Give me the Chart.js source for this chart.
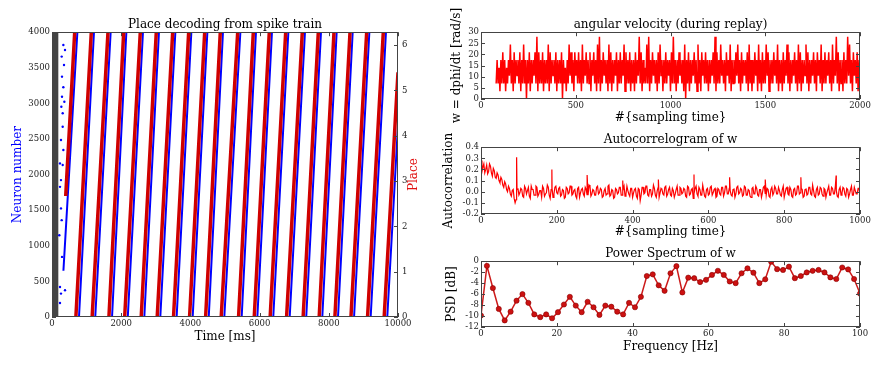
<!DOCTYPE html>
<html>
<head>
<meta charset="utf-8">
<script src="https://cdn.jsdelivr.net/npm/chart.js@4.4.1/dist/chart.umd.min.js"></script>
<style>
  html, body { margin: 0; padding: 0; background: #fff; overflow: hidden; }
  canvas { position: absolute; }
</style>
</head>
<body>
<canvas id="raster" width="440" height="367" style="left:0px;top:0px"></canvas>
<canvas id="omega" width="448" height="130" style="left:440px;top:0px"></canvas>
<canvas id="autocorr" width="448" height="120" style="left:440px;top:125px"></canvas>
<canvas id="psd" width="448" height="127" style="left:440px;top:240px"></canvas>
<script>
// ---------- left panel: spike raster + decoded place ----------
// decoded place sweeps 0 -> 2pi (first one starts part way, last one is cut at 10000 ms)
const placeStart = [396, 690, 1160, 1645, 2100, 2578, 3040, 3512, 3976, 4440, 4890,
                    5392, 5845, 6305, 6780, 7258, 7722, 8176, 8640, 9120, 9600];
const placeEnd   = [656, 1136, 1618, 2072, 2552, 3014, 3488, 3950, 4413, 4864, 5367,
                    5818, 6280, 6754, 7234, 7697, 8150, 8613, 9095, 9575, 10000];
const placeFirst = 2.67;
const placeLast = 5.4;

// raster: neuron 0 -> 4000 sweeps
const rasterStart = [330, 780, 1250, 1735, 2190, 2668, 3130, 3602, 4066, 4530, 4980,
                     5482, 5935, 6395, 6870, 7348, 7812, 8266, 8730, 9210, 9690];
const rasterEnd   = [733, 1213, 1695, 2149, 2629, 3091, 3565, 4027, 4490, 4941, 5444,
                     5895, 6357, 6831, 7311, 7774, 8227, 8690, 9172, 9652, 10000];
const rasterFirst = 650;
const rasterLast = 2700;

// scattered spikes before the first sweep
const earlyT = [328, 376, 280, 347, 289, 328, 289, 270, 357, 309, 309, 260, 328,
                231, 309, 260, 231, 260, 280, 212, 289, 231, 260, 376, 231];
const earlyN = [3821, 3751, 3657, 3540, 3376, 3226, 3094, 2954, 3024, 2861, 2672, 2485, 2345,
                2157, 2134, 1923, 1828, 1525, 1360, 1149, 844, 422, 329, 376, 197];
const cueEnd = 190;

// ---------- angular velocity (quantised, 3.5 rad/s per level) ----------
const wStart = 80;
const wStep = 5;
const wLevel = 3.5;
const wBins = [
  "2524152625142537" + "2516253526152725" + "0526152536281625",
  "2615252716253526" + "1525260524152736" + "2516352625172536",
  "2526153625172815" + "2635251726152536" + "1526253716252615",
  "2516253826152427" + "2815263525162735" + "1526253516282515",
  "2635251705261525" + "3625172516352625" + "1525362816252735",
  "2516352715252637" + "2516253526172515" + "2635172516252736",
  "1525263527152516" + "2537261525362517" + "2615253726152536",
  "2516352715262536" + "2517253826152516" + "2528372516352615"
];

// ---------- autocorrelogram ----------
// values at lags 0, 5, 10 ... 1000
const acValues = [
  .28, .22, .17, .24, .18, .23, .14, .19, .12, .15, .08, .11, .04, .07, 0, .03, -.04, .02, -.1, .02, -.03,
  .03, -.04, .05, -.02, .04, -.06, .02, -.03, .05, -.04, .01, -.05, .03, -.02, .06, -.03, .02, -.05, .04, -.01,
  .03, -.04, .02, -.06, .04, -.02, .05, -.03, .01, -.04, .03, -.05, .02, -.02, .04, -.03, .06, -.04, .02, -.03,
  .04, -.02, .03, -.05, .01, -.03, .05, -.04, .02, -.06, .03, -.02, .04, -.03, .02, -.04, .05, -.02, .03, -.05,
  .02, -.04, .03, -.08, .04, -.02, .05, -.03, .02, -.04, .06, -.03, .01, -.05, .03, -.02, .04, -.04, .02, -.03,
  .03, -.05, .02, -.03, .04, -.02, .03, -.04, .05, -.03, .02, -.06, .03, -.02, .04, -.03, .06, -.04, .02, -.03,
  .04, -.03, .02, -.05, .03, -.02, .04, -.04, .05, -.02, .03, -.03, .02, -.05, .04, -.02, .03, -.04, .05, -.03,
  .02, -.04, .03, -.02, .05, -.03, .02, -.05, .04, -.02, .03, -.04, .02, -.03, .05, -.02, .04, -.03, .02, -.05,
  .03, -.02, .04, -.04, .02, -.03, .05, -.02, .03, -.05, .02, -.03, .04, -.02, .06, -.04, .02, -.03, .04, -.02,
  .03, -.05, .02, -.03, .04, -.02, .05, -.04, .02, -.03, .04, -.02, .03, -.05, .02, -.03, .04, -.02, .03, -.04
];
// values at lags 2.5, 7.5 ... 997.5
const acMid = [
  .18, .25, .2, .16, .25, .17, .21, .13, .17, .1, .13, .06, .09, .02, .05, -.02, .01, -.06, -.07, .03,
  -.01, .02, -.05, .03, .01, -.04, .05, .02, -.03, .04, -.02, .01, .05, -.04, -.01, .04, -.06, .03, -.02, .05,
  -.02, .04, -.03, .01, -.05, .03, -.01, .05, -.02, .02, -.06, .04, -.01, .03, -.04, .02, -.03, .05, -.02, .01,
  -.03, .05, -.01, .02, -.04, .03, -.02, .06, -.03, .01, -.05, .02, -.01, .04, -.03, .05, -.02, .01, -.04, .03,
  -.01, .03, -.06, .02, -.03, .04, -.01, .05, -.04, .02, -.02, .03, -.05, .04, -.01, .02, -.03, .05, -.02, .04,
  -.04, .01, -.02, .05, -.03, .03, -.01, .02, -.05, .04, -.02, .03, -.01, .05, -.04, .02, -.03, .01, -.05, .03,
  -.02, .05, -.01, .03, -.04, .02, -.03, .04, -.01, .05, -.02, .01, -.04, .03, -.02, .05, -.01, .02, -.03, .04,
  -.03, .01, -.05, .04, -.02, .03, -.04, .02, -.01, .05, -.03, .02, -.05, .04, -.01, .03, -.02, .01, -.04, .05,
  -.01, .04, -.03, .02, -.05, .03, -.02, .05, -.01, .02, -.04, .03, -.02, .04, -.03, .01, -.05, .04, -.02, .03,
  -.04, .02, -.01, .05, -.03, .03, -.02, .01, -.05, .04, -.01, .03, -.04, .02, -.02, .05, -.03, .01, -.02, .03
];
const acPeakLag = [94, 187, 280, 374, 468, 562, 656, 750, 844, 937];
const acPeakVal = [0.31, 0.20, 0.15, 0.10, 0.11, 0.155, 0.13, 0.11, 0.13, 0.145];

// ---------- power spectrum ----------
const psdFreq = [0, 1.56, 3.13, 4.69, 6.25, 7.81, 9.38, 10.94, 12.5, 14.06, 15.63, 17.19, 18.75,
  20.31, 21.88, 23.44, 25, 26.56, 28.13, 29.69, 31.25, 32.81, 34.38, 35.94, 37.5, 39.06, 40.63,
  42.19, 43.75, 45.31, 46.88, 48.44, 50, 51.56, 53.13, 54.69, 56.25, 57.81, 59.38, 60.94, 62.5,
  64.06, 65.63, 67.19, 68.75, 70.31, 71.88, 73.44, 75, 76.56, 78.13, 79.69, 81.25, 82.81, 84.38,
  85.94, 87.5, 89.06, 90.63, 92.19, 93.75, 95.31, 96.88, 98.44, 100];
const psdDb = [-9.9, -0.85, -4.9, -8.7, -10.8, -9.2, -7.2, -6.0, -7.6, -9.7, -10.2, -9.7, -10.4,
  -9.3, -7.9, -6.5, -8.1, -9.3, -7.4, -8.4, -9.8, -8.1, -8.3, -9.2, -9.7, -7.6, -8.4,
  -6.5, -2.7, -2.4, -4.4, -5.4, -2.2, -0.9, -5.7, -3.0, -3.1, -3.8, -3.4, -2.5, -1.75,
  -2.5, -3.7, -4.0, -2.2, -1.3, -2.1, -4.0, -3.3, -0.1, -1.45, -1.6, -1.0, -3.1, -2.7,
  -2.05, -1.75, -1.6, -2.05, -2.95, -3.25, -1.15, -1.5, -3.25, -5.9];

// ---------- helpers ----------
Chart.defaults.font.family = "'DejaVu Serif', serif";
Chart.defaults.color = '#000';
Chart.defaults.animation = false;
Chart.defaults.plugins.legend.display = false;
Chart.defaults.plugins.tooltip.enabled = false;

const TWO_PI = 2 * Math.PI;

function sweeps(t0, t1, lo, hi, first, last) {
  const pts = [];
  t0.forEach((t, i) => {
    pts.push({ x: t, y: i === 0 ? first : lo });
    pts.push({ x: t1[i], y: i === t0.length - 1 ? last : hi });
    pts.push({ x: t1[i], y: null });
  });
  return pts;
}

function axis(o) {
  return {
    type: 'linear',
    position: o.position,
    min: o.min,
    max: o.max,
    grid: { display: false, drawTicks: false },
    border: { display: false },
    ticks: {
      stepSize: o.step,
      padding: o.pad == null ? 2 : o.pad,
      includeBounds: false,
      autoSkip: false,
      maxRotation: 0,
      color: '#222',
      font: { size: 8.5 },
      callback: o.fmt || (v => String(v))
    },
    title: o.title
      ? { display: true, text: o.title, color: o.titleColor || '#000', font: { size: 12 }, padding: o.titlePad }
      : { display: false },
    afterFit: s => {
      if (s.isHorizontal()) s.height = o.size; else s.width = o.size;
    }
  };
}

function titleOpt(text, top) {
  return {
    display: true, text: text, fullSize: false, color: '#000',
    font: { size: 12, weight: 'normal' },
    padding: { top: top, bottom: 0 }
  };
}

// frame around the plot with inward ticks, matplotlib classic style
const frame = {
  id: 'frame',
  afterDatasetsDraw(chart) {
    const { ctx, chartArea: a, scales } = chart;
    const list = Object.values(scales);
    const hasRight = list.some(s => s.position === 'right');
    ctx.save();
    ctx.strokeStyle = '#444';
    ctx.lineWidth = 1;
    ctx.beginPath();
    list.forEach(s => {
      s.ticks.forEach(t => {
        const p = Math.round(s.getPixelForValue(t.value)) + 0.5;
        if (s.isHorizontal()) {
          ctx.moveTo(p, a.bottom); ctx.lineTo(p, a.bottom - 4);
          ctx.moveTo(p, a.top); ctx.lineTo(p, a.top + 4);
        } else {
          if (s.position === 'left') { ctx.moveTo(a.left, p); ctx.lineTo(a.left + 4, p); }
          if (s.position === 'right' || !hasRight) { ctx.moveTo(a.right, p); ctx.lineTo(a.right - 4, p); }
        }
      });
    });
    ctx.stroke();
    ctx.strokeRect(Math.round(a.left) + 0.5, Math.round(a.top) + 0.5,
                   Math.round(a.width) - 1, Math.round(a.height) - 1);
    ctx.restore();
  }
};

// right axis label, reading upwards like the left one
const placeLabel = {
  id: 'placeLabel',
  afterDraw(chart) {
    const { ctx, chartArea: a } = chart;
    ctx.save();
    ctx.translate(a.right + 16, (a.top + a.bottom) / 2);
    ctx.rotate(-Math.PI / 2);
    ctx.font = "12px 'DejaVu Serif'";
    ctx.fillStyle = '#e01010';
    ctx.textAlign = 'center';
    ctx.textBaseline = 'middle';
    ctx.fillText('Place', 0, 0);
    ctx.restore();
  }
};

// ---------- left chart ----------
new Chart(document.getElementById('raster'), {
  type: 'scatter',
  data: {
    datasets: [
      {
        data: sweeps(placeStart, placeEnd, 0, TWO_PI, placeFirst, placeLast),
        yAxisID: 'y2', showLine: true, spanGaps: false, pointRadius: 0,
        borderColor: '#d00000', borderWidth: 3.5
      },
      {
        data: sweeps(rasterStart, rasterEnd, 0, 4000, rasterFirst, rasterLast),
        yAxisID: 'y', showLine: true, spanGaps: false, pointRadius: 0,
        borderColor: '#0000ff', borderWidth: 2
      },
      {
        data: earlyT.map((t, i) => ({ x: t, y: earlyN[i] })),
        yAxisID: 'y', pointRadius: 1.2, borderWidth: 0, backgroundColor: '#0000ff'
      },
      {
        data: [{ x: 0, y: 4000 }, { x: cueEnd, y: 4000 }],
        yAxisID: 'y', showLine: true, pointRadius: 0, borderWidth: 0,
        fill: 'start', backgroundColor: '#444444'
      }
    ]
  },
  options: {
    responsive: false,
    devicePixelRatio: 1,
    layout: { padding: 0 },
    plugins: { title: titleOpt('Place decoding from spike train', 17.8) },
    scales: {
      x: axis({ position: 'bottom', min: 0, max: 10000, step: 2000, size: 50,
                title: 'Time [ms]', titlePad: { top: 0, bottom: 23 } }),
      y: axis({ position: 'left', min: 0, max: 4000, step: 500, size: 52,
                title: 'Neuron number', titleColor: '#0000ff', titlePad: { top: 10.8, bottom: 0 } }),
      y2: axis({ position: 'right', min: 0, max: TWO_PI, step: 1, size: 42, pad: 4 })
    }
  },
  plugins: [frame, placeLabel]
});

// ---------- right charts ----------
const wPoints = [];
wBins.join('').split('').forEach((d, i) => {
  wPoints.push({ x: wStart + i * wStep, y: Number(d) * wLevel });
});

new Chart(document.getElementById('omega'), {
  type: 'scatter',
  data: {
    datasets: [{
      data: wPoints, showLine: true, pointRadius: 0,
      borderColor: '#ff0000', borderWidth: 1.5
    }]
  },
  options: {
    responsive: false,
    devicePixelRatio: 1,
    layout: { padding: { right: 28 } },
    plugins: { title: titleOpt('angular velocity (during replay)', 17.8) },
    scales: {
      x: axis({ position: 'bottom', min: 0, max: 2000, step: 500, size: 31,
                title: '#{sampling time}', titlePad: { top: 0, bottom: 4.5 } }),
      y: axis({ position: 'left', min: 0, max: 30, step: 5, size: 41,
                title: 'w = dphi/dt [rad/s]', titlePad: { top: 9.8, bottom: 0 } })
    }
  },
  plugins: [frame]
});

const acPoints = [];
acValues.forEach((v, i) => acPoints.push({ x: i * 5, y: v }));
acMid.forEach((v, i) => acPoints.push({ x: 2.5 + i * 5, y: v }));
acPeakLag.forEach((l, i) => acPoints.push({ x: l, y: acPeakVal[i] }));
acPoints.sort((a, b) => a.x - b.x);

new Chart(document.getElementById('autocorr'), {
  type: 'scatter',
  data: {
    datasets: [{
      data: acPoints, showLine: true, pointRadius: 0,
      borderColor: '#ff0000', borderWidth: 1.2
    }]
  },
  options: {
    responsive: false,
    devicePixelRatio: 1,
    layout: { padding: { right: 28 } },
    plugins: { title: titleOpt('Autocorrelogram of w', 7.8) },
    scales: {
      x: axis({ position: 'bottom', min: 0, max: 1000, step: 200, size: 31,
                title: '#{sampling time}', titlePad: { top: 0, bottom: 5.5 } }),
      y: axis({ position: 'left', min: -0.2, max: 0.4, step: 0.1, size: 41,
                fmt: v => v.toFixed(1),
                title: 'Autocorrelation', titlePad: { top: 1.8, bottom: 0 } })
    }
  },
  plugins: [frame]
});

new Chart(document.getElementById('psd'), {
  type: 'scatter',
  data: {
    datasets: [{
      data: psdFreq.map((f, i) => ({ x: f, y: psdDb[i] })),
      showLine: true, borderColor: '#cc1a1a', borderWidth: 1.5,
      pointRadius: 2.6, pointBackgroundColor: '#cc1111',
      pointBorderColor: '#8a0000', pointBorderWidth: 0.6
    }]
  },
  options: {
    responsive: false,
    devicePixelRatio: 1,
    layout: { padding: { right: 28 } },
    plugins: { title: titleOpt('Power Spectrum of w', 6.8) },
    scales: {
      x: axis({ position: 'bottom', min: 0, max: 100, step: 20, size: 40,
                title: 'Frequency [Hz]', titlePad: { top: 0, bottom: 13.1 } }),
      y: axis({ position: 'left', min: -12, max: 0, step: 2, size: 41,
                title: 'PSD [dB]', titlePad: { top: 4.8, bottom: 0 } })
    }
  },
  plugins: [frame]
});
</script>
</body>
</html>
